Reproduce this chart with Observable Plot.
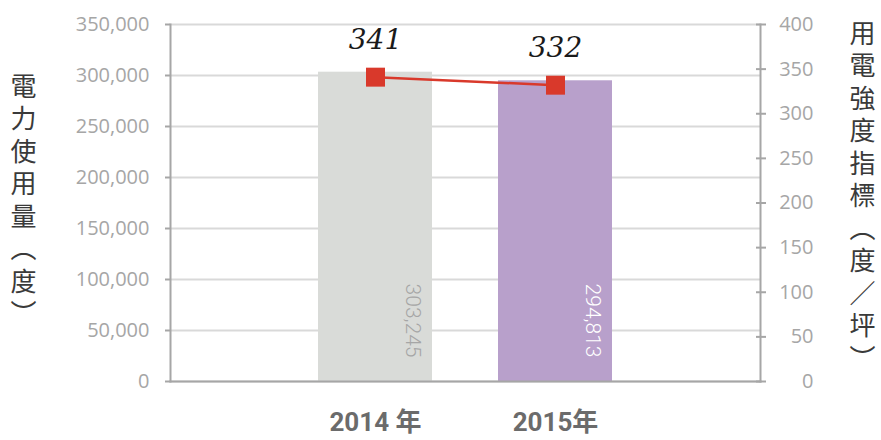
<!DOCTYPE html>
<html>
<head>
<meta charset="utf-8">
<script src="https://cdn.jsdelivr.net/npm/d3@7"></script>
<script src="https://cdn.jsdelivr.net/npm/@observablehq/plot@0.6"></script>
<style>
  body { margin: 0; background: #fff; }
  #wrap { position: relative; width: 881px; height: 440px; }
  #wrap svg { position: absolute; left: 0; top: 0; background: transparent; }
  .vlabel {
    position: absolute;
    writing-mode: vertical-rl;
    font-family: "Noto Sans CJK TC", "Noto Sans CJK SC", sans-serif;
    font-size: 26px;
    line-height: 1;
    letter-spacing: 6.5px;
    color: #3a3a3a;
  }
  .upright { text-orientation: upright; font-feature-settings: "vert" 0, "vrt2" 0; }
</style>
</head>
<body>
<div id="wrap"></div>
<script>
// ---- data ----
const years = ["2014 年", "2015年"];
const usage = [303245, 294813];          // 電力使用量（度）
const intensity = [341, 332];            // 用電強度指標（度／坪）
const leftTicks = [0, 50000, 100000, 150000, 200000, 250000, 300000, 350000];
const rightTicks = [0, 50, 100, 150, 200, 250, 300, 350, 400];
const barColors = ["#d9dbd8", "#b8a0cb"];
const barLabelColors = ["#a6a6a6", "#ffffff"];
const leftTitle = ["電力使用量（度）"];
const rightTitle = ["用電強度指標（度", "／", "坪）"];

const data = years.map((y, i) => ({
  year: y, usage: usage[i], intensity: intensity[i],
  fill: barColors[i], labelFill: barLabelColors[i]
}));

const W = 881, H = 440;
const margins = { marginLeft: 170, marginRight: 121, marginTop: 24, marginBottom: 59 };
const xScale = { type: "band", domain: years, paddingInner: 0.367, paddingOuter: 0.815 };
const axisGray = "#a6a6a6";
const red = "#d9392b";

const plotA = Plot.plot({
  width: W, height: H, ...margins,
  style: { fontFamily: "'Open Sans', sans-serif", background: "transparent" },
  x: { ...xScale, label: null },
  y: { domain: [0, 350000], label: null },
  marks: [
    Plot.gridY(leftTicks, { stroke: "#d9d9d9", strokeOpacity: 1, strokeWidth: 2 }),
    Plot.barY(data, { x: "year", y: "usage", fill: "fill" }),
    Plot.text(data, {
      x: "year", y: 0, text: d => d3.format(",")(d.usage),
      rotate: 90, textAnchor: "end", dx: 37, dy: -24,
      fill: "labelFill", fontSize: 21, fontWeight: 300,
      fontFamily: "Roboto, sans-serif"
    }),
    Plot.frame({ anchor: "left", stroke: axisGray, strokeWidth: 2 }),
    Plot.frame({ anchor: "bottom", stroke: axisGray, strokeWidth: 2 }),
    Plot.frame({ anchor: "right", stroke: axisGray, strokeWidth: 2 }),
    Plot.axisY({
      ticks: leftTicks, tickSize: 5, tickPadding: 16, tickFormat: d3.format(","),
      color: axisGray, fontSize: 20, strokeWidth: 2, label: null
    }),
    Plot.axisX({
      tickSize: 0, tickPadding: 31, fontSize: 26, fontWeight: "bold",
      fill: "#6b6b6b", fontFamily: "Roboto, 'Noto Sans CJK TC', sans-serif", label: null
    })
  ]
});

const plotB = Plot.plot({
  width: W, height: H, ...margins,
  style: { fontFamily: "'Open Sans', sans-serif", background: "transparent" },
  x: { ...xScale, label: null, axis: null },
  y: { domain: [0, 400], label: null, axis: null },
  marks: [
    Plot.axisY({
      anchor: "right", ticks: rightTicks, tickSize: 10, dx: -5, tickPadding: 48,
      textAnchor: "end", color: axisGray, fontSize: 20, strokeWidth: 2, label: null
    }),
    Plot.line(data, { x: "year", y: "intensity", stroke: red, strokeWidth: 2.5 }),
    Plot.dot(data, { x: "year", y: "intensity", symbol: "square", r: 10.7, fill: red, stroke: null }),
    Plot.text(data, {
      x: "year", y: "intensity", text: d => String(d.intensity),
      dy: -37, fontSize: 28, fontStyle: "italic",
      fontFamily: "'DejaVu Serif', serif", fill: "#1a1a1a"
    })
  ]
});

const wrap = document.getElementById("wrap");
wrap.appendChild(plotA);
wrap.appendChild(plotB);

function vlabel(parts, left, top) {
  const div = document.createElement("div");
  div.className = "vlabel";
  div.style.left = left + "px"; div.style.top = top + "px";
  parts.forEach(p => {
    const s = document.createElement("span");
    s.textContent = p;
    if (p === "／") s.className = "upright";
    div.appendChild(s);
  });
  wrap.appendChild(div);
}
vlabel(leftTitle, 10, 73);
vlabel(rightTitle, 849, 20);
</script>
</body>
</html>
